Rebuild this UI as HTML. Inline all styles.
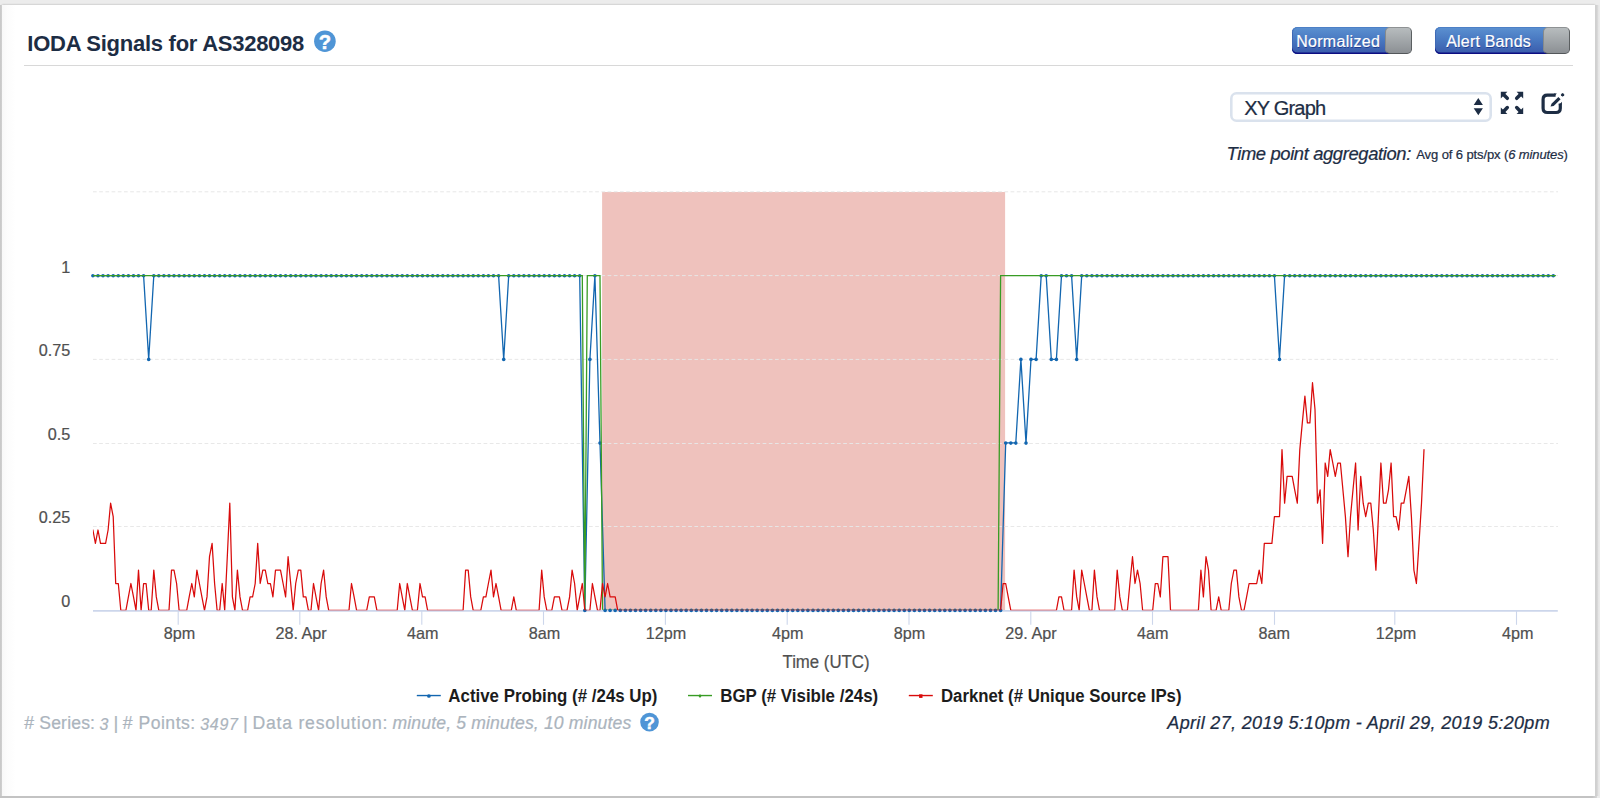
<!DOCTYPE html>
<html lang="en">
<head>
<meta charset="utf-8">
<title>IODA Signals for AS328098</title>
<style>
html,body{margin:0;padding:0}
body{width:1600px;height:798px;overflow:hidden;position:relative;background:#ececec;font-family:"Liberation Sans", sans-serif;}
.panel{position:absolute;left:1.5px;top:5px;width:1593.9px;height:791.1px;background:linear-gradient(90deg,#f8f8f8 0,#fcfcfc 5px,#fff 14px);box-shadow:0 0 2px 0.4px rgba(0,0,0,.3);}
.edge{position:absolute;left:0;top:5px;width:3px;height:793px;background:linear-gradient(90deg,#c9c9c9 0,#cacaca 1.1px,rgba(215,215,215,0) 2.3px)}
.edgeb{position:absolute;left:0;top:796.2px;width:1597px;height:2px;background:linear-gradient(90deg,#c3c3c3 0,#c3c3c3 99.7%,#d8d8d8 100%)}
.edger{position:absolute;left:1595.4px;top:5px;width:4.6px;height:791.2px;background:linear-gradient(90deg,#cfcfcf 0,#d2d2d2 42%,#e5e5e5 66%,#ececec 100%)}
.t{position:absolute;white-space:nowrap;-webkit-text-stroke:0.22px currentColor;}
.hr{position:absolute;left:24.1px;top:64.7px;width:1548.8px;height:1.4px;background:#d8d8d8;}
.toggle{position:absolute;top:27px;height:26.8px;}
.toggle .on{position:absolute;left:0;top:0;bottom:0;right:12px;border-radius:5.5px 0 0 5.5px;
  background:linear-gradient(#5c91d1 0%,#4878c1 48%,#3a5aaa 100%);box-shadow:inset 0 -1.4px 0 #0d0d82,inset 0 1px 0 #4d80c6,inset 1px 0 0 #3f68b4;}
.toggle .knob{position:absolute;right:0;top:0;bottom:0;width:26.8px;border-radius:4.8px;box-sizing:border-box;
  background:linear-gradient(#b7bcbe,#8c9094);border:1px solid;border-color:#8e9294 #5b5f61 #53575a #858a8c;}
.select{position:absolute;left:1230px;top:91.9px;width:261.6px;height:30px;box-sizing:border-box;border-radius:6.5px;background:#fff;box-shadow:inset 0 0 0 2.6px #dae2ed;}
svg{position:absolute;left:0;top:0;overflow:visible}
svg text{font-family:"Liberation Sans", sans-serif;}
</style>
</head>
<body>
<div class="panel"></div><div class="edge"></div><div class="edger"></div><div class="edgeb"></div>
<header>
<h2 style="margin:0;font-size:0"><span class="t" id="title" style="top:28.58px;font-size:22px;line-height:29px;color:#1d2d44;font-weight:700;letter-spacing:-0.260px;left:27.30px;-webkit-text-stroke:0;">IODA Signals for AS328098</span>
</h2>
<div class="hr"></div>
<div class="toggle" style="left:1291.6px;width:120.3px"><div class="on"></div><div class="knob"></div></div>
<span class="t" id="tg1" style="top:30.56px;font-size:16px;line-height:21px;color:#fff;letter-spacing:0.298px;left:1296.20px;text-shadow:0.6px 0.7px 0 rgba(0,20,110,.55);">Normalized</span>
<div class="toggle" style="left:1434.7px;width:135.4px"><div class="on"></div><div class="knob"></div></div>
<span class="t" id="tg2" style="top:30.56px;font-size:16px;line-height:21px;color:#fff;letter-spacing:0.188px;left:1446.20px;text-shadow:0.6px 0.7px 0 rgba(0,20,110,.55);">Alert Bands</span>
</header>
<section class="controls">
<div class="select"></div>
<span class="t" id="sel" style="top:95.47px;font-size:20px;line-height:26px;color:#1d2d44;letter-spacing:-0.810px;left:1244.30px;">XY Graph</span>
<span class="t" id="agg" style="top:142.42px;font-size:18.40px;line-height:24px;color:#1d2d44;font-style:italic;letter-spacing:-0.376px;left:1226.50px;">Time point aggregation:</span>
<span class="t" id="agg2" style="top:145.90px;font-size:13px;line-height:17px;color:#1d2d44;letter-spacing:-0.109px;left:1416.30px;">Avg of 6 pts/px (<i>6 minutes</i>)</span>
</section>
<footer>
<span class="t" id="f1" style="top:712.30px;font-size:17.60px;line-height:23px;color:#abb4bd;letter-spacing:0.158px;left:24.30px;"># Series:</span>
<span class="t" id="f2" style="top:713.86px;font-size:16px;line-height:21px;color:#abb4bd;font-style:italic;left:99.60px;">3</span>
<span class="t" id="f3" style="top:710.89px;font-size:18.50px;line-height:24px;color:#abb4bd;left:113.40px;">|</span>
<span class="t" id="f4" style="top:712.30px;font-size:17.60px;line-height:23px;color:#abb4bd;letter-spacing:0.491px;left:122.80px;"># Points:</span>
<span class="t" id="f5" style="top:713.86px;font-size:16px;line-height:21px;color:#abb4bd;font-style:italic;letter-spacing:0.735px;left:200.20px;">3497</span>
<span class="t" id="f6" style="top:710.89px;font-size:18.50px;line-height:24px;color:#abb4bd;left:242.90px;">|</span>
<span class="t" id="f7" style="top:712.30px;font-size:17.60px;line-height:23px;color:#abb4bd;letter-spacing:0.784px;left:252.50px;">Data resolution:</span>
<span class="t" id="f8" style="top:712.30px;font-size:17.60px;line-height:23px;color:#abb4bd;font-style:italic;letter-spacing:0.146px;left:392.50px;">minute, 5 minutes, 10 minutes</span>
<span class="t" id="f9" style="top:711.76px;font-size:18px;line-height:23px;color:#1d2d44;font-style:italic;letter-spacing:0.337px;left:1167.30px;">April 27, 2019 5:10pm - April 29, 2019 5:20pm</span>
</footer>
<svg width="1600" height="798" viewBox="0 0 1600 798">
<g><circle cx="324.9" cy="41.2" r="10.8" fill="#4f95d6"/><text x="324.9" y="49.1" font-size="20.2" font-weight="700" fill="#fff" stroke="#fff" stroke-width="0.5" text-anchor="middle">?</text></g>
<g><circle cx="649.5" cy="722.1" r="9.3" fill="#4f95d6"/><text x="649.5" y="728.8" font-size="17.4" font-weight="700" fill="#fff" stroke="#fff" stroke-width="0.5" text-anchor="middle">?</text></g>
<path d="M1473.7 105 L1478.3 97.9 L1482.9 105 Z M1473.7 108.2 L1478.3 115.3 L1482.9 108.2 Z" fill="#1d2d44"/>
<g><path d="M1503 94 L1507.3 98.3" stroke="#1d2d44" stroke-width="3.5" stroke-linecap="round" fill="none"/><path d="M1500.8 91.8 L1507.4 91.8 L1500.8 98.4 Z" fill="#1d2d44"/><path d="M1503 111.9 L1507.3 107.6" stroke="#1d2d44" stroke-width="3.5" stroke-linecap="round" fill="none"/><path d="M1500.8 114.1 L1507.4 114.1 L1500.8 107.5 Z" fill="#1d2d44"/><path d="M1521 94 L1516.7 98.3" stroke="#1d2d44" stroke-width="3.5" stroke-linecap="round" fill="none"/><path d="M1523.2 91.8 L1516.6 91.8 L1523.2 98.4 Z" fill="#1d2d44"/><path d="M1521 111.9 L1516.7 107.6" stroke="#1d2d44" stroke-width="3.5" stroke-linecap="round" fill="none"/><path d="M1523.2 114.1 L1516.6 114.1 L1523.2 107.5 Z" fill="#1d2d44"/></g>
<path d="M1555.6 95.1 H1547.3 Q1543.1 95.1 1543.1 99.3 V108.3 Q1543.1 112.5 1547.3 112.5 H1556.1 Q1560.3 112.5 1560.3 108.3 V103.6" fill="none" stroke="#1d2d44" stroke-width="3.2"/>
<path d="M1554 93.5 H1556.9 L1553.6 96.7 H1554 Z" fill="#1d2d44"/><path d="M1561.9 101.8 V104.5 H1558.7 V105.2 Z" fill="#1d2d44"/>
<path d="M1550.5 106.5 L1551.5 103.7 L1558.4 97.1 L1560.6 99.3 L1553.7 106.0 Z" fill="#1d2d44"/>
<rect x="1561.2" y="93.4" width="2.8" height="2.8" rx="0.5" fill="#1d2d44" transform="rotate(45 1562.6 94.8)"/>
<rect x="602.1" y="192" width="403" height="418.3" fill="#efc2bd"/>
<path d="M93 526.5 H1558" stroke="#e7e7e7" stroke-width="0.95" stroke-dasharray="3.7 2.5" fill="none"/>
<path d="M93 443.5 H1558" stroke="#e7e7e7" stroke-width="0.95" stroke-dasharray="3.7 2.5" fill="none"/>
<path d="M93 359.4 H1558" stroke="#e7e7e7" stroke-width="0.95" stroke-dasharray="3.7 2.5" fill="none"/>
<path d="M93 275.6 H1558" stroke="#e7e7e7" stroke-width="0.95" stroke-dasharray="3.7 2.5" fill="none"/>
<path d="M93 191.8 H1558" stroke="#e7e7e7" stroke-width="0.95" stroke-dasharray="3.7 2.5" fill="none"/>
<path d="M93 610.85 H1557.8" stroke="#ccd6eb" stroke-width="1.7" fill="none"/>
<path d="M178.2 611 V624.8" stroke="#ccd6eb" stroke-width="1.1" fill="none"/>
<text x="179.4" y="638.7" font-size="16.2" fill="#505050" stroke="#505050" stroke-width="0.2" text-anchor="middle">8pm</text>
<path d="M299.8 611 V624.8" stroke="#ccd6eb" stroke-width="1.1" fill="none"/>
<text x="301.1" y="638.7" font-size="16.2" fill="#505050" stroke="#505050" stroke-width="0.2" text-anchor="middle">28. Apr</text>
<path d="M421.8 611 V624.8" stroke="#ccd6eb" stroke-width="1.1" fill="none"/>
<text x="422.7" y="638.7" font-size="16.2" fill="#505050" stroke="#505050" stroke-width="0.2" text-anchor="middle">4am</text>
<path d="M543.5 611 V624.8" stroke="#ccd6eb" stroke-width="1.1" fill="none"/>
<text x="544.4" y="638.7" font-size="16.2" fill="#505050" stroke="#505050" stroke-width="0.2" text-anchor="middle">8am</text>
<path d="M665.4 611 V624.8" stroke="#ccd6eb" stroke-width="1.1" fill="none"/>
<text x="666" y="638.7" font-size="16.2" fill="#505050" stroke="#505050" stroke-width="0.2" text-anchor="middle">12pm</text>
<path d="M787.2 611 V624.8" stroke="#ccd6eb" stroke-width="1.1" fill="none"/>
<text x="787.7" y="638.7" font-size="16.2" fill="#505050" stroke="#505050" stroke-width="0.2" text-anchor="middle">4pm</text>
<path d="M909 611 V624.8" stroke="#ccd6eb" stroke-width="1.1" fill="none"/>
<text x="909.4" y="638.7" font-size="16.2" fill="#505050" stroke="#505050" stroke-width="0.2" text-anchor="middle">8pm</text>
<path d="M1030.8 611 V624.8" stroke="#ccd6eb" stroke-width="1.1" fill="none"/>
<text x="1031" y="638.7" font-size="16.2" fill="#505050" stroke="#505050" stroke-width="0.2" text-anchor="middle">29. Apr</text>
<path d="M1152.5 611 V624.8" stroke="#ccd6eb" stroke-width="1.1" fill="none"/>
<text x="1152.7" y="638.7" font-size="16.2" fill="#505050" stroke="#505050" stroke-width="0.2" text-anchor="middle">4am</text>
<path d="M1274.5 611 V624.8" stroke="#ccd6eb" stroke-width="1.1" fill="none"/>
<text x="1274.3" y="638.7" font-size="16.2" fill="#505050" stroke="#505050" stroke-width="0.2" text-anchor="middle">8am</text>
<path d="M1394.8 611 V624.8" stroke="#ccd6eb" stroke-width="1.1" fill="none"/>
<text x="1396" y="638.7" font-size="16.2" fill="#505050" stroke="#505050" stroke-width="0.2" text-anchor="middle">12pm</text>
<path d="M1516.5 611 V624.8" stroke="#ccd6eb" stroke-width="1.1" fill="none"/>
<text x="1517.7" y="638.7" font-size="16.2" fill="#505050" stroke="#505050" stroke-width="0.2" text-anchor="middle">4pm</text>
<text x="70.3" y="606.8" font-size="16.2" fill="#505050" stroke="#505050" stroke-width="0.2" text-anchor="end">0</text>
<text x="70.3" y="522.8" font-size="16.2" fill="#505050" stroke="#505050" stroke-width="0.2" text-anchor="end">0.25</text>
<text x="70.3" y="440" font-size="16.2" fill="#505050" stroke="#505050" stroke-width="0.2" text-anchor="end">0.5</text>
<text x="70.3" y="356" font-size="16.2" fill="#505050" stroke="#505050" stroke-width="0.2" text-anchor="end">0.75</text>
<text x="70.3" y="273.4" font-size="16.2" fill="#505050" stroke="#505050" stroke-width="0.2" text-anchor="end">1</text>
<text x="826" y="667.6" font-size="18" fill="#505050" stroke="#505050" stroke-width="0.2" text-anchor="middle" textLength="87" lengthAdjust="spacingAndGlyphs">Time (UTC)</text>
<defs><clipPath id="plotclip"><rect x="92.9" y="180" width="1465.6" height="430.15"/></clipPath><clipPath id="plotclip2"><rect x="92.9" y="180" width="1465.6" height="429.7"/></clipPath></defs>
<path clip-path="url(#plotclip2)" d="M92.9 275.6 L98 275.6 L103 275.6 L108.1 275.6 L113.2 275.6 L118.3 275.6 L123.3 275.6 L128.4 275.6 L133.5 275.6 L138.5 275.6 L143.6 275.6 L148.7 359.3 L153.8 275.6 L158.8 275.6 L163.9 275.6 L169 275.6 L174 275.6 L179.1 275.6 L184.2 275.6 L189.2 275.6 L194.3 275.6 L199.4 275.6 L204.5 275.6 L209.5 275.6 L214.6 275.6 L219.7 275.6 L224.7 275.6 L229.8 275.6 L234.9 275.6 L240 275.6 L245 275.6 L250.1 275.6 L255.2 275.6 L260.2 275.6 L265.3 275.6 L270.4 275.6 L275.5 275.6 L280.5 275.6 L285.6 275.6 L290.7 275.6 L295.7 275.6 L300.8 275.6 L305.9 275.6 L311 275.6 L316 275.6 L321.1 275.6 L326.2 275.6 L331.2 275.6 L336.3 275.6 L341.4 275.6 L346.4 275.6 L351.5 275.6 L356.6 275.6 L361.7 275.6 L366.7 275.6 L371.8 275.6 L376.9 275.6 L381.9 275.6 L387 275.6 L392.1 275.6 L397.2 275.6 L402.2 275.6 L407.3 275.6 L412.4 275.6 L417.4 275.6 L422.5 275.6 L427.6 275.6 L432.7 275.6 L437.7 275.6 L442.8 275.6 L447.9 275.6 L452.9 275.6 L458 275.6 L463.1 275.6 L468.2 275.6 L473.2 275.6 L478.3 275.6 L483.4 275.6 L488.4 275.6 L493.5 275.6 L498.6 275.6 L503.7 359.3 L508.7 275.6 L513.8 275.6 L518.9 275.6 L523.9 275.6 L529 275.6 L534.1 275.6 L539.1 275.6 L544.2 275.6 L549.3 275.6 L554.4 275.6 L559.4 275.6 L564.5 275.6 L569.6 275.6 L574.6 275.6 L579.7 275.6 L584.8 610.3 L589.9 359.3 L594.9 275.6 L600 442.9 L605.1 610.3 L610.1 610.3 L615.2 610.3 L620.3 610.3 L625.4 610.3 L630.4 610.3 L635.5 610.3 L640.6 610.3 L645.6 610.3 L650.7 610.3 L655.8 610.3 L660.9 610.3 L665.9 610.3 L671 610.3 L676.1 610.3 L681.1 610.3 L686.2 610.3 L691.3 610.3 L696.3 610.3 L701.4 610.3 L706.5 610.3 L711.6 610.3 L716.6 610.3 L721.7 610.3 L726.8 610.3 L731.8 610.3 L736.9 610.3 L742 610.3 L747.1 610.3 L752.1 610.3 L757.2 610.3 L762.3 610.3 L767.3 610.3 L772.4 610.3 L777.5 610.3 L782.6 610.3 L787.6 610.3 L792.7 610.3 L797.8 610.3 L802.8 610.3 L807.9 610.3 L813 610.3 L818.1 610.3 L823.1 610.3 L828.2 610.3 L833.3 610.3 L838.3 610.3 L843.4 610.3 L848.5 610.3 L853.5 610.3 L858.6 610.3 L863.7 610.3 L868.8 610.3 L873.8 610.3 L878.9 610.3 L884 610.3 L889 610.3 L894.1 610.3 L899.2 610.3 L904.3 610.3 L909.3 610.3 L914.4 610.3 L919.5 610.3 L924.5 610.3 L929.6 610.3 L934.7 610.3 L939.8 610.3 L944.8 610.3 L949.9 610.3 L955 610.3 L960 610.3 L965.1 610.3 L970.2 610.3 L975.3 610.3 L980.3 610.3 L985.4 610.3 L990.5 610.3 L995.5 610.3 L1000.6 610.3 L1005.7 442.9 L1010.8 442.9 L1015.8 442.9 L1020.9 359.3 L1026 442.9 L1031 359.3 L1036.1 359.3 L1041.2 275.6 L1046.2 275.6 L1051.3 359.3 L1056.4 359.3 L1061.5 275.6 L1066.5 275.6 L1071.6 275.6 L1076.7 359.3 L1081.7 275.6 L1086.8 275.6 L1091.9 275.6 L1097 275.6 L1102 275.6 L1107.1 275.6 L1112.2 275.6 L1117.2 275.6 L1122.3 275.6 L1127.4 275.6 L1132.5 275.6 L1137.5 275.6 L1142.6 275.6 L1147.7 275.6 L1152.7 275.6 L1157.8 275.6 L1162.9 275.6 L1168 275.6 L1173 275.6 L1178.1 275.6 L1183.2 275.6 L1188.2 275.6 L1193.3 275.6 L1198.4 275.6 L1203.4 275.6 L1208.5 275.6 L1213.6 275.6 L1218.7 275.6 L1223.7 275.6 L1228.8 275.6 L1233.9 275.6 L1238.9 275.6 L1244 275.6 L1249.1 275.6 L1254.2 275.6 L1259.2 275.6 L1264.3 275.6 L1269.4 275.6 L1274.4 275.6 L1279.5 359.3 L1284.6 275.6 L1289.7 275.6 L1294.7 275.6 L1299.8 275.6 L1304.9 275.6 L1309.9 275.6 L1315 275.6 L1320.1 275.6 L1325.2 275.6 L1330.2 275.6 L1335.3 275.6 L1340.4 275.6 L1345.4 275.6 L1350.5 275.6 L1355.6 275.6 L1360.7 275.6 L1365.7 275.6 L1370.8 275.6 L1375.9 275.6 L1380.9 275.6 L1386 275.6 L1391.1 275.6 L1396.1 275.6 L1401.2 275.6 L1406.3 275.6 L1411.4 275.6 L1416.4 275.6 L1421.5 275.6 L1426.6 275.6 L1431.6 275.6 L1436.7 275.6 L1441.8 275.6 L1446.9 275.6 L1451.9 275.6 L1457 275.6 L1462.1 275.6 L1467.1 275.6 L1472.2 275.6 L1477.3 275.6 L1482.4 275.6 L1487.4 275.6 L1492.5 275.6 L1497.6 275.6 L1502.6 275.6 L1507.7 275.6 L1512.8 275.6 L1517.9 275.6 L1522.9 275.6 L1528 275.6 L1533.1 275.6 L1538.1 275.6 L1543.2 275.6 L1548.3 275.6 L1553.3 275.6" stroke="#1266b0" stroke-width="1.3" fill="none" stroke-linejoin="round"/>
<g fill="#1266b0"><circle cx="92.9" cy="275.8" r="1.8"/><circle cx="98" cy="275.8" r="1.8"/><circle cx="103" cy="275.8" r="1.8"/><circle cx="108.1" cy="275.8" r="1.8"/><circle cx="113.2" cy="275.8" r="1.8"/><circle cx="118.3" cy="275.8" r="1.8"/><circle cx="123.3" cy="275.8" r="1.8"/><circle cx="128.4" cy="275.8" r="1.8"/><circle cx="133.5" cy="275.8" r="1.8"/><circle cx="138.5" cy="275.8" r="1.8"/><circle cx="143.6" cy="275.8" r="1.8"/><circle cx="148.7" cy="359.4" r="1.8"/><circle cx="153.8" cy="275.8" r="1.8"/><circle cx="158.8" cy="275.8" r="1.8"/><circle cx="163.9" cy="275.8" r="1.8"/><circle cx="169" cy="275.8" r="1.8"/><circle cx="174" cy="275.8" r="1.8"/><circle cx="179.1" cy="275.8" r="1.8"/><circle cx="184.2" cy="275.8" r="1.8"/><circle cx="189.2" cy="275.8" r="1.8"/><circle cx="194.3" cy="275.8" r="1.8"/><circle cx="199.4" cy="275.8" r="1.8"/><circle cx="204.5" cy="275.8" r="1.8"/><circle cx="209.5" cy="275.8" r="1.8"/><circle cx="214.6" cy="275.8" r="1.8"/><circle cx="219.7" cy="275.8" r="1.8"/><circle cx="224.7" cy="275.8" r="1.8"/><circle cx="229.8" cy="275.8" r="1.8"/><circle cx="234.9" cy="275.8" r="1.8"/><circle cx="240" cy="275.8" r="1.8"/><circle cx="245" cy="275.8" r="1.8"/><circle cx="250.1" cy="275.8" r="1.8"/><circle cx="255.2" cy="275.8" r="1.8"/><circle cx="260.2" cy="275.8" r="1.8"/><circle cx="265.3" cy="275.8" r="1.8"/><circle cx="270.4" cy="275.8" r="1.8"/><circle cx="275.5" cy="275.8" r="1.8"/><circle cx="280.5" cy="275.8" r="1.8"/><circle cx="285.6" cy="275.8" r="1.8"/><circle cx="290.7" cy="275.8" r="1.8"/><circle cx="295.7" cy="275.8" r="1.8"/><circle cx="300.8" cy="275.8" r="1.8"/><circle cx="305.9" cy="275.8" r="1.8"/><circle cx="311" cy="275.8" r="1.8"/><circle cx="316" cy="275.8" r="1.8"/><circle cx="321.1" cy="275.8" r="1.8"/><circle cx="326.2" cy="275.8" r="1.8"/><circle cx="331.2" cy="275.8" r="1.8"/><circle cx="336.3" cy="275.8" r="1.8"/><circle cx="341.4" cy="275.8" r="1.8"/><circle cx="346.4" cy="275.8" r="1.8"/><circle cx="351.5" cy="275.8" r="1.8"/><circle cx="356.6" cy="275.8" r="1.8"/><circle cx="361.7" cy="275.8" r="1.8"/><circle cx="366.7" cy="275.8" r="1.8"/><circle cx="371.8" cy="275.8" r="1.8"/><circle cx="376.9" cy="275.8" r="1.8"/><circle cx="381.9" cy="275.8" r="1.8"/><circle cx="387" cy="275.8" r="1.8"/><circle cx="392.1" cy="275.8" r="1.8"/><circle cx="397.2" cy="275.8" r="1.8"/><circle cx="402.2" cy="275.8" r="1.8"/><circle cx="407.3" cy="275.8" r="1.8"/><circle cx="412.4" cy="275.8" r="1.8"/><circle cx="417.4" cy="275.8" r="1.8"/><circle cx="422.5" cy="275.8" r="1.8"/><circle cx="427.6" cy="275.8" r="1.8"/><circle cx="432.7" cy="275.8" r="1.8"/><circle cx="437.7" cy="275.8" r="1.8"/><circle cx="442.8" cy="275.8" r="1.8"/><circle cx="447.9" cy="275.8" r="1.8"/><circle cx="452.9" cy="275.8" r="1.8"/><circle cx="458" cy="275.8" r="1.8"/><circle cx="463.1" cy="275.8" r="1.8"/><circle cx="468.2" cy="275.8" r="1.8"/><circle cx="473.2" cy="275.8" r="1.8"/><circle cx="478.3" cy="275.8" r="1.8"/><circle cx="483.4" cy="275.8" r="1.8"/><circle cx="488.4" cy="275.8" r="1.8"/><circle cx="493.5" cy="275.8" r="1.8"/><circle cx="498.6" cy="275.8" r="1.8"/><circle cx="503.7" cy="359.4" r="1.8"/><circle cx="508.7" cy="275.8" r="1.8"/><circle cx="513.8" cy="275.8" r="1.8"/><circle cx="518.9" cy="275.8" r="1.8"/><circle cx="523.9" cy="275.8" r="1.8"/><circle cx="529" cy="275.8" r="1.8"/><circle cx="534.1" cy="275.8" r="1.8"/><circle cx="539.1" cy="275.8" r="1.8"/><circle cx="544.2" cy="275.8" r="1.8"/><circle cx="549.3" cy="275.8" r="1.8"/><circle cx="554.4" cy="275.8" r="1.8"/><circle cx="559.4" cy="275.8" r="1.8"/><circle cx="564.5" cy="275.8" r="1.8"/><circle cx="569.6" cy="275.8" r="1.8"/><circle cx="574.6" cy="275.8" r="1.8"/><circle cx="579.7" cy="275.8" r="1.8"/><circle cx="584.8" cy="610.4" r="1.8"/><circle cx="589.9" cy="359.4" r="1.8"/><circle cx="594.9" cy="275.8" r="1.8"/><circle cx="600" cy="443.1" r="1.8"/><circle cx="605.1" cy="610.4" r="1.8"/><circle cx="610.1" cy="610.4" r="1.8"/><circle cx="615.2" cy="610.4" r="1.8"/><circle cx="620.3" cy="610.4" r="1.8"/><circle cx="625.4" cy="610.4" r="1.8"/><circle cx="630.4" cy="610.4" r="1.8"/><circle cx="635.5" cy="610.4" r="1.8"/><circle cx="640.6" cy="610.4" r="1.8"/><circle cx="645.6" cy="610.4" r="1.8"/><circle cx="650.7" cy="610.4" r="1.8"/><circle cx="655.8" cy="610.4" r="1.8"/><circle cx="660.9" cy="610.4" r="1.8"/><circle cx="665.9" cy="610.4" r="1.8"/><circle cx="671" cy="610.4" r="1.8"/><circle cx="676.1" cy="610.4" r="1.8"/><circle cx="681.1" cy="610.4" r="1.8"/><circle cx="686.2" cy="610.4" r="1.8"/><circle cx="691.3" cy="610.4" r="1.8"/><circle cx="696.3" cy="610.4" r="1.8"/><circle cx="701.4" cy="610.4" r="1.8"/><circle cx="706.5" cy="610.4" r="1.8"/><circle cx="711.6" cy="610.4" r="1.8"/><circle cx="716.6" cy="610.4" r="1.8"/><circle cx="721.7" cy="610.4" r="1.8"/><circle cx="726.8" cy="610.4" r="1.8"/><circle cx="731.8" cy="610.4" r="1.8"/><circle cx="736.9" cy="610.4" r="1.8"/><circle cx="742" cy="610.4" r="1.8"/><circle cx="747.1" cy="610.4" r="1.8"/><circle cx="752.1" cy="610.4" r="1.8"/><circle cx="757.2" cy="610.4" r="1.8"/><circle cx="762.3" cy="610.4" r="1.8"/><circle cx="767.3" cy="610.4" r="1.8"/><circle cx="772.4" cy="610.4" r="1.8"/><circle cx="777.5" cy="610.4" r="1.8"/><circle cx="782.6" cy="610.4" r="1.8"/><circle cx="787.6" cy="610.4" r="1.8"/><circle cx="792.7" cy="610.4" r="1.8"/><circle cx="797.8" cy="610.4" r="1.8"/><circle cx="802.8" cy="610.4" r="1.8"/><circle cx="807.9" cy="610.4" r="1.8"/><circle cx="813" cy="610.4" r="1.8"/><circle cx="818.1" cy="610.4" r="1.8"/><circle cx="823.1" cy="610.4" r="1.8"/><circle cx="828.2" cy="610.4" r="1.8"/><circle cx="833.3" cy="610.4" r="1.8"/><circle cx="838.3" cy="610.4" r="1.8"/><circle cx="843.4" cy="610.4" r="1.8"/><circle cx="848.5" cy="610.4" r="1.8"/><circle cx="853.5" cy="610.4" r="1.8"/><circle cx="858.6" cy="610.4" r="1.8"/><circle cx="863.7" cy="610.4" r="1.8"/><circle cx="868.8" cy="610.4" r="1.8"/><circle cx="873.8" cy="610.4" r="1.8"/><circle cx="878.9" cy="610.4" r="1.8"/><circle cx="884" cy="610.4" r="1.8"/><circle cx="889" cy="610.4" r="1.8"/><circle cx="894.1" cy="610.4" r="1.8"/><circle cx="899.2" cy="610.4" r="1.8"/><circle cx="904.3" cy="610.4" r="1.8"/><circle cx="909.3" cy="610.4" r="1.8"/><circle cx="914.4" cy="610.4" r="1.8"/><circle cx="919.5" cy="610.4" r="1.8"/><circle cx="924.5" cy="610.4" r="1.8"/><circle cx="929.6" cy="610.4" r="1.8"/><circle cx="934.7" cy="610.4" r="1.8"/><circle cx="939.8" cy="610.4" r="1.8"/><circle cx="944.8" cy="610.4" r="1.8"/><circle cx="949.9" cy="610.4" r="1.8"/><circle cx="955" cy="610.4" r="1.8"/><circle cx="960" cy="610.4" r="1.8"/><circle cx="965.1" cy="610.4" r="1.8"/><circle cx="970.2" cy="610.4" r="1.8"/><circle cx="975.3" cy="610.4" r="1.8"/><circle cx="980.3" cy="610.4" r="1.8"/><circle cx="985.4" cy="610.4" r="1.8"/><circle cx="990.5" cy="610.4" r="1.8"/><circle cx="995.5" cy="610.4" r="1.8"/><circle cx="1000.6" cy="610.4" r="1.8"/><circle cx="1005.7" cy="443.1" r="1.8"/><circle cx="1010.8" cy="443.1" r="1.8"/><circle cx="1015.8" cy="443.1" r="1.8"/><circle cx="1020.9" cy="359.4" r="1.8"/><circle cx="1026" cy="443.1" r="1.8"/><circle cx="1031" cy="359.4" r="1.8"/><circle cx="1036.1" cy="359.4" r="1.8"/><circle cx="1041.2" cy="275.8" r="1.8"/><circle cx="1046.2" cy="275.8" r="1.8"/><circle cx="1051.3" cy="359.4" r="1.8"/><circle cx="1056.4" cy="359.4" r="1.8"/><circle cx="1061.5" cy="275.8" r="1.8"/><circle cx="1066.5" cy="275.8" r="1.8"/><circle cx="1071.6" cy="275.8" r="1.8"/><circle cx="1076.7" cy="359.4" r="1.8"/><circle cx="1081.7" cy="275.8" r="1.8"/><circle cx="1086.8" cy="275.8" r="1.8"/><circle cx="1091.9" cy="275.8" r="1.8"/><circle cx="1097" cy="275.8" r="1.8"/><circle cx="1102" cy="275.8" r="1.8"/><circle cx="1107.1" cy="275.8" r="1.8"/><circle cx="1112.2" cy="275.8" r="1.8"/><circle cx="1117.2" cy="275.8" r="1.8"/><circle cx="1122.3" cy="275.8" r="1.8"/><circle cx="1127.4" cy="275.8" r="1.8"/><circle cx="1132.5" cy="275.8" r="1.8"/><circle cx="1137.5" cy="275.8" r="1.8"/><circle cx="1142.6" cy="275.8" r="1.8"/><circle cx="1147.7" cy="275.8" r="1.8"/><circle cx="1152.7" cy="275.8" r="1.8"/><circle cx="1157.8" cy="275.8" r="1.8"/><circle cx="1162.9" cy="275.8" r="1.8"/><circle cx="1168" cy="275.8" r="1.8"/><circle cx="1173" cy="275.8" r="1.8"/><circle cx="1178.1" cy="275.8" r="1.8"/><circle cx="1183.2" cy="275.8" r="1.8"/><circle cx="1188.2" cy="275.8" r="1.8"/><circle cx="1193.3" cy="275.8" r="1.8"/><circle cx="1198.4" cy="275.8" r="1.8"/><circle cx="1203.4" cy="275.8" r="1.8"/><circle cx="1208.5" cy="275.8" r="1.8"/><circle cx="1213.6" cy="275.8" r="1.8"/><circle cx="1218.7" cy="275.8" r="1.8"/><circle cx="1223.7" cy="275.8" r="1.8"/><circle cx="1228.8" cy="275.8" r="1.8"/><circle cx="1233.9" cy="275.8" r="1.8"/><circle cx="1238.9" cy="275.8" r="1.8"/><circle cx="1244" cy="275.8" r="1.8"/><circle cx="1249.1" cy="275.8" r="1.8"/><circle cx="1254.2" cy="275.8" r="1.8"/><circle cx="1259.2" cy="275.8" r="1.8"/><circle cx="1264.3" cy="275.8" r="1.8"/><circle cx="1269.4" cy="275.8" r="1.8"/><circle cx="1274.4" cy="275.8" r="1.8"/><circle cx="1279.5" cy="359.4" r="1.8"/><circle cx="1284.6" cy="275.8" r="1.8"/><circle cx="1289.7" cy="275.8" r="1.8"/><circle cx="1294.7" cy="275.8" r="1.8"/><circle cx="1299.8" cy="275.8" r="1.8"/><circle cx="1304.9" cy="275.8" r="1.8"/><circle cx="1309.9" cy="275.8" r="1.8"/><circle cx="1315" cy="275.8" r="1.8"/><circle cx="1320.1" cy="275.8" r="1.8"/><circle cx="1325.2" cy="275.8" r="1.8"/><circle cx="1330.2" cy="275.8" r="1.8"/><circle cx="1335.3" cy="275.8" r="1.8"/><circle cx="1340.4" cy="275.8" r="1.8"/><circle cx="1345.4" cy="275.8" r="1.8"/><circle cx="1350.5" cy="275.8" r="1.8"/><circle cx="1355.6" cy="275.8" r="1.8"/><circle cx="1360.7" cy="275.8" r="1.8"/><circle cx="1365.7" cy="275.8" r="1.8"/><circle cx="1370.8" cy="275.8" r="1.8"/><circle cx="1375.9" cy="275.8" r="1.8"/><circle cx="1380.9" cy="275.8" r="1.8"/><circle cx="1386" cy="275.8" r="1.8"/><circle cx="1391.1" cy="275.8" r="1.8"/><circle cx="1396.1" cy="275.8" r="1.8"/><circle cx="1401.2" cy="275.8" r="1.8"/><circle cx="1406.3" cy="275.8" r="1.8"/><circle cx="1411.4" cy="275.8" r="1.8"/><circle cx="1416.4" cy="275.8" r="1.8"/><circle cx="1421.5" cy="275.8" r="1.8"/><circle cx="1426.6" cy="275.8" r="1.8"/><circle cx="1431.6" cy="275.8" r="1.8"/><circle cx="1436.7" cy="275.8" r="1.8"/><circle cx="1441.8" cy="275.8" r="1.8"/><circle cx="1446.9" cy="275.8" r="1.8"/><circle cx="1451.9" cy="275.8" r="1.8"/><circle cx="1457" cy="275.8" r="1.8"/><circle cx="1462.1" cy="275.8" r="1.8"/><circle cx="1467.1" cy="275.8" r="1.8"/><circle cx="1472.2" cy="275.8" r="1.8"/><circle cx="1477.3" cy="275.8" r="1.8"/><circle cx="1482.4" cy="275.8" r="1.8"/><circle cx="1487.4" cy="275.8" r="1.8"/><circle cx="1492.5" cy="275.8" r="1.8"/><circle cx="1497.6" cy="275.8" r="1.8"/><circle cx="1502.6" cy="275.8" r="1.8"/><circle cx="1507.7" cy="275.8" r="1.8"/><circle cx="1512.8" cy="275.8" r="1.8"/><circle cx="1517.9" cy="275.8" r="1.8"/><circle cx="1522.9" cy="275.8" r="1.8"/><circle cx="1528" cy="275.8" r="1.8"/><circle cx="1533.1" cy="275.8" r="1.8"/><circle cx="1538.1" cy="275.8" r="1.8"/><circle cx="1543.2" cy="275.8" r="1.8"/><circle cx="1548.3" cy="275.8" r="1.8"/><circle cx="1553.3" cy="275.8" r="1.8"/></g>
<path clip-path="url(#plotclip2)" d="M92.9 275.6 L582.3 275.6 L584.8 610.3 L587.3 275.6 L600 275.6 L602.5 610.3 L998.1 610.3 L1000.6 275.6 L1555.9 275.6" stroke="#389c24" stroke-width="1.3" fill="none" stroke-linejoin="miter"/>
<path clip-path="url(#plotclip)" d="M92.9 530 L95.4 543.4 L98 530 L100.5 543.4 L105.6 543.4 L108.1 530 L110.6 503.2 L113.2 516.6 L115.7 583.5 L118.3 583.5 L120.8 610.3 L125.9 610.3 L128.4 596.9 L130.9 583.5 L133.5 596.9 L136 610.3 L138.5 570.1 L141.1 610.3 L143.6 583.5 L146.1 583.5 L148.7 610.3 L151.2 610.3 L153.8 570.1 L156.3 596.9 L158.8 610.3 L169 610.3 L171.5 570.1 L174 570.1 L176.6 583.5 L179.1 610.3 L186.7 610.3 L189.2 596.9 L191.8 583.5 L194.3 596.9 L196.9 570.1 L199.4 583.5 L201.9 596.9 L204.5 610.3 L207 596.9 L209.5 556.7 L212.1 543.4 L214.6 583.5 L217.1 610.3 L219.7 610.3 L222.2 583.5 L224.7 610.3 L227.3 556.7 L229.8 503.2 L232.4 596.9 L234.9 610.3 L237.4 570.1 L240 596.9 L242.5 610.3 L247.6 610.3 L250.1 596.9 L252.6 596.9 L255.2 583.5 L257.7 543.4 L260.2 583.5 L262.8 570.1 L265.3 570.1 L267.8 583.5 L270.4 583.5 L272.9 596.9 L275.5 570.1 L280.5 570.1 L283.1 583.5 L285.6 596.9 L288.1 556.7 L290.7 583.5 L293.2 610.3 L295.7 583.5 L298.3 570.1 L300.8 570.1 L303.3 596.9 L305.9 596.9 L308.4 610.3 L311 610.3 L313.5 583.5 L316 596.9 L318.6 610.3 L321.1 583.5 L323.6 570.1 L326.2 596.9 L328.7 610.3 L349 610.3 L351.5 583.5 L354.1 596.9 L356.6 610.3 L366.7 610.3 L369.3 596.9 L374.3 596.9 L376.9 610.3 L397.2 610.3 L399.7 583.5 L402.2 596.9 L404.8 610.3 L407.3 583.5 L409.8 596.9 L412.4 610.3 L417.4 610.3 L420 583.5 L422.5 596.9 L425.1 596.9 L427.6 610.3 L463.1 610.3 L465.6 570.1 L468.2 570.1 L470.7 596.9 L473.2 610.3 L480.8 610.3 L483.4 596.9 L485.9 596.9 L488.4 583.5 L491 570.1 L493.5 596.9 L496 583.5 L498.6 596.9 L501.1 610.3 L511.3 610.3 L513.8 596.9 L516.3 610.3 L539.1 610.3 L541.7 570.1 L544.2 596.9 L546.8 610.3 L551.8 610.3 L554.4 596.9 L559.4 596.9 L562 610.3 L567 610.3 L569.6 596.9 L572.1 570.1 L574.6 583.5 L577.2 610.3 L579.7 596.9 L582.3 583.5 L584.8 610.3 L589.9 610.3 L592.4 583.5 L594.9 596.9 L597.5 610.3 L600 610.3 L602.5 583.5 L605.1 596.9 L607.6 583.5 L610.1 596.9 L615.2 596.9 L617.7 610.3 L1000.6 610.3 L1003.1 583.5 L1005.7 583.5 L1008.2 596.9 L1010.8 610.3 L1056.4 610.3 L1058.9 596.9 L1061.5 596.9 L1064 610.3 L1071.6 610.3 L1074.1 570.1 L1076.7 596.9 L1079.2 610.3 L1081.7 570.1 L1084.3 583.5 L1086.8 596.9 L1089.4 610.3 L1091.9 610.3 L1094.4 570.1 L1097 596.9 L1099.5 610.3 L1114.7 610.3 L1117.2 570.1 L1119.8 596.9 L1122.3 610.3 L1127.4 610.3 L1129.9 583.5 L1132.5 556.7 L1135 583.5 L1137.5 570.1 L1140.1 583.5 L1142.6 610.3 L1152.7 610.3 L1155.3 583.5 L1157.8 583.5 L1160.3 596.9 L1162.9 556.7 L1168 556.7 L1170.5 610.3 L1198.4 610.3 L1200.9 570.1 L1203.4 596.9 L1206 556.7 L1208.5 570.1 L1211.1 610.3 L1216.1 610.3 L1218.7 596.9 L1221.2 610.3 L1228.8 610.3 L1231.3 583.5 L1233.9 570.1 L1236.4 570.1 L1238.9 596.9 L1241.5 610.3 L1244 610.3 L1246.6 596.9 L1249.1 583.5 L1256.7 583.5 L1259.2 570.1 L1261.8 583.5 L1264.3 543.4 L1271.9 543.4 L1274.4 516.6 L1279.5 516.6 L1282 449.6 L1284.6 503.2 L1287.1 476.4 L1292.2 476.4 L1294.7 489.8 L1297.3 503.2 L1299.8 449.6 L1302.3 422.9 L1304.9 396.1 L1307.4 422.9 L1309.9 422.9 L1312.5 382.7 L1315 409.5 L1317.5 503.2 L1320.1 489.8 L1322.6 543.4 L1325.2 463 L1327.7 476.4 L1330.2 449.6 L1332.8 463 L1335.3 476.4 L1337.8 463 L1340.4 463 L1342.9 489.8 L1345.4 516.6 L1348 556.7 L1350.5 516.6 L1353 489.8 L1355.6 463 L1358.1 530 L1360.7 476.4 L1363.2 503.2 L1365.7 516.6 L1368.3 503.2 L1370.8 503.2 L1373.3 530 L1375.9 570.1 L1378.4 516.6 L1380.9 463 L1383.5 503.2 L1386 503.2 L1388.5 489.8 L1391.1 463 L1393.6 516.6 L1396.1 516.6 L1398.7 530 L1401.2 503.2 L1403.8 503.2 L1406.3 489.8 L1408.8 476.4 L1411.4 516.6 L1413.9 570.1 L1416.4 583.5 L1419 543.4 L1421.5 503.2 L1424 449.6" stroke="#d90b0b" stroke-width="1.25" fill="none" stroke-linejoin="round" stroke-linecap="round"/>
<path d="M416.8 695.55 H440.8" stroke="#1266b0" stroke-width="1.4" fill="none"/><circle cx="428.9" cy="696.0" r="1.85" fill="#1266b0"/><text x="448.3" y="701.6" font-size="18" font-weight="700" fill="#1c1c1c" textLength="209.2" lengthAdjust="spacingAndGlyphs">Active Probing (# /24s Up)</text>
<path d="M688 695.55 H712" stroke="#389c24" stroke-width="1.4" fill="none"/><path d="M700 694.1 L701.5 696 L700 698 L698.5 696 Z" fill="#389c24"/><text x="720.2" y="701.6" font-size="18" font-weight="700" fill="#1c1c1c" textLength="158" lengthAdjust="spacingAndGlyphs">BGP (# Visible /24s)</text>
<path d="M908.8 695.55 H932.8" stroke="#d90b0b" stroke-width="1.4" fill="none"/><rect x="919.1" y="694.3" width="3.4" height="3.6" fill="#d90b0b"/><text x="941" y="701.6" font-size="18" font-weight="700" fill="#1c1c1c" textLength="240.5" lengthAdjust="spacingAndGlyphs">Darknet (# Unique Source IPs)</text>
</svg>
</body>
</html>
